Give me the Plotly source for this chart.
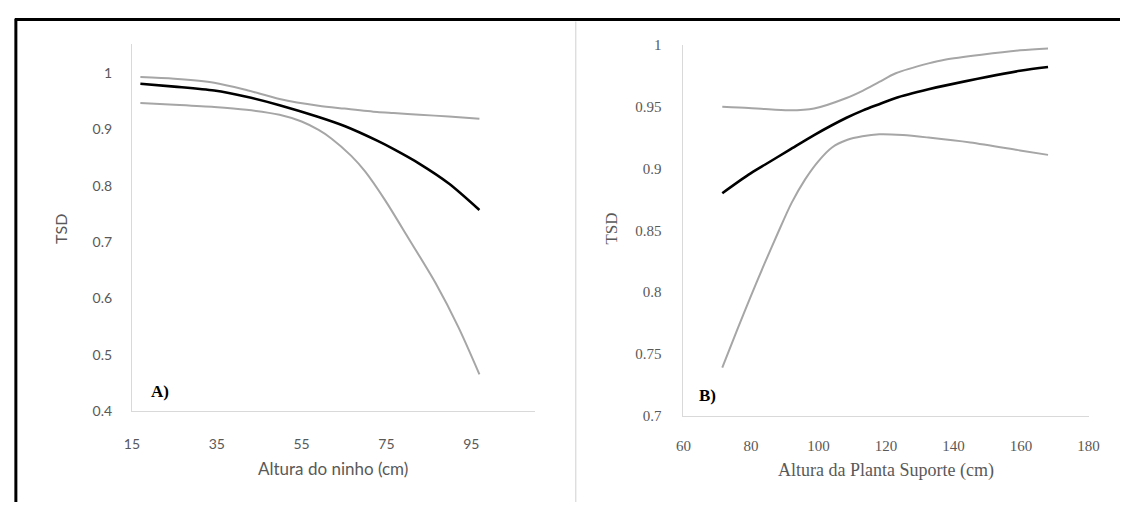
import plotly.graph_objects as go

# Panel A: Altura do ninho (cm)
a_x = [17, 25, 34.4, 42, 49.8, 59, 65.1, 72.8, 76.7, 82.8, 89.7, 96.9]
a_fit = [0.981, 0.976, 0.969, 0.958, 0.943, 0.922, 0.906, 0.880, 0.865, 0.839, 0.804, 0.757]
a_upper = [0.993, 0.990, 0.983, 0.970, 0.954, 0.942, 0.937, 0.931, 0.929, 0.926, 0.923, 0.919]
a_lower_x = [17, 25, 34.4, 42, 49.8, 55, 59, 62, 66.7, 70, 74.7, 80, 86.5, 92, 96.9]
a_lower = [0.947, 0.944, 0.940, 0.935, 0.926, 0.914, 0.899, 0.884, 0.853, 0.825, 0.774, 0.709, 0.628, 0.548, 0.465]

# Panel B: Altura da Planta Suporte (cm)
b_x = [71.5, 79.3, 84.1, 91.4, 98.7, 108.3, 113.2, 118, 122.9, 132.6, 137.4, 159.7, 168]
b_fit = [0.880, 0.895, 0.903, 0.915, 0.927, 0.941, 0.947, 0.952, 0.957, 0.964, 0.967, 0.979, 0.982]
b_upper = [0.950, 0.949, 0.948, 0.947, 0.9485, 0.957, 0.963, 0.970, 0.977, 0.985, 0.988, 0.9955, 0.997]
b_lower_x = [71.5, 76, 80, 84, 88, 92, 96, 100, 104, 108.4, 113, 118, 125, 132.6, 145, 159.7, 168]
b_lower = [0.739, 0.770, 0.797, 0.823, 0.848, 0.872, 0.891, 0.906, 0.917, 0.923, 0.926, 0.9276, 0.927, 0.925, 0.921, 0.9146, 0.911]

GRAY = "#a6a6a6"
AXIS = "#d9d9d9"
TICK = "#595959"

fig = go.Figure()

def add_line(x, y, col, w, xa, ya):
    fig.add_trace(go.Scatter(x=x, y=y, mode="lines", line=dict(color=col, width=w, shape="spline", smoothing=0.8),
                             xaxis=xa, yaxis=ya, showlegend=False, hoverinfo="skip"))

add_line(a_x, a_upper, GRAY, 2, "x", "y")
add_line(a_lower_x, a_lower, GRAY, 2, "x", "y")
add_line(a_x, a_fit, "black", 2.6, "x", "y")
add_line(b_x, b_upper, GRAY, 2, "x2", "y2")
add_line(b_lower_x, b_lower, GRAY, 2, "x2", "y2")
add_line(b_x, b_fit, "black", 2.6, "x2", "y2")

W, H = 1131, 510
def px(v): return v / W
def py(v): return 1 - v / H

sans = dict(family="Lato, 'Open Sans', sans-serif", size=14, color=TICK)
serif = dict(family="'Liberation Serif', 'Times New Roman', serif", size=15, color=TICK)

common = dict(showgrid=False, zeroline=False, showline=True, linecolor=AXIS, linewidth=1, ticks="", fixedrange=True)

fig.update_layout(
    width=W, height=H, margin=dict(l=0, r=0, t=0, b=0),
    paper_bgcolor="white", plot_bgcolor="white",
    xaxis=dict(domain=[px(126), px(536)], range=[15, 110], tickvals=[15, 35, 55, 75, 95],
               anchor="y", tickfont=sans, ticklabelstandoff=20, **common),
    yaxis=dict(domain=[py(416), py(37)], range=[0.4, 1.052], tickvals=[0.4, 0.5, 0.6, 0.7, 0.8, 0.9, 1],
               ticktext=["0.4", "0.5", "0.6", "0.7", "0.8", "0.9", "1"],
               anchor="x", tickfont=sans, ticklabelstandoff=16, **common),
    xaxis2=dict(domain=[px(687), px(1099)], range=[60, 180], tickvals=[60, 80, 100, 120, 140, 160, 180],
                anchor="y2", tickfont=serif, ticklabelstandoff=16, **common),
    yaxis2=dict(domain=[py(421), py(38)], range=[0.7, 1.0], tickvals=[0.7, 0.75, 0.8, 0.85, 0.9, 0.95, 1],
                ticktext=["0.7", "0.75", "0.8", "0.85", "0.9", "0.95", "1"],
                anchor="x2", tickfont=serif, ticklabelstandoff=18, **common),
)

ann = [
    dict(x=px(331), y=py(475), text="Altura do ninho (cm)", font=dict(family="Lato, 'Open Sans', sans-serif", size=17, color=TICK)),
    dict(x=px(54), y=py(228), text="TSD", textangle=-90, font=dict(family="Lato, 'Open Sans', sans-serif", size=16, color=TICK)),
    dict(x=px(893), y=py(477), text="Altura da Planta Suporte (cm)", font=dict(family="'Liberation Serif', serif", size=18, color=TICK)),
    dict(x=px(614), y=py(228), text="TSD", textangle=-90, font=dict(family="'Liberation Serif', serif", size=17, color=TICK)),
    dict(x=px(143), y=py(396), text="<b>A)</b>", xanchor="left", font=dict(family="'Liberation Serif', serif", size=17, color="black")),
    dict(x=px(701), y=py(400), text="<b>B)</b>", xanchor="left", font=dict(family="'Liberation Serif', serif", size=17, color="black")),
]
for a in ann:
    a.setdefault("xanchor", "center")
    fig.add_annotation(xref="paper", yref="paper", yanchor="middle", showarrow=False, **a)

# frame lines
fig.add_shape(type="line", xref="paper", yref="paper", x0=px(7), x1=1, y0=py(12), y1=py(12), line=dict(color="black", width=3))
fig.add_shape(type="line", xref="paper", yref="paper", x0=px(8), x1=px(8), y0=py(11), y1=0, line=dict(color="black", width=3))
fig.add_shape(type="line", xref="paper", yref="paper", x0=px(577.5), x1=px(577.5), y0=py(14), y1=0, line=dict(color="#d0d0d0", width=1))

fig.write_html("out.html", config={"displayModeBar": False},
               post_script="document.body.style.margin='0';document.body.style.overflow='hidden';")
